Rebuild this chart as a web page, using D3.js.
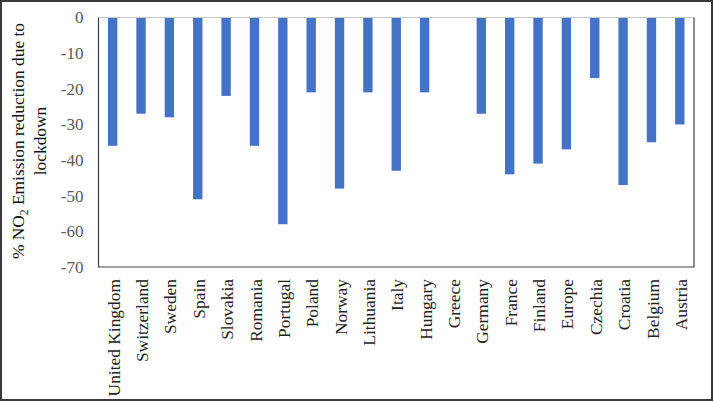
<!DOCTYPE html>
<html>
<head>
<meta charset="utf-8">
<script src="https://cdn.jsdelivr.net/npm/d3@7"></script>
<style>
  body { margin: 0; background: #fff; }
  svg text { font-family: "Liberation Serif", "Times New Roman", serif; }
</style>
</head>
<body>
<div id="chart"></div>
<script>
var countries = ["United Kingdom", "Switzerland", "Sweden", "Spain", "Slovakia", "Romania",
	"Portugal", "Poland", "Norway", "Lithuania", "Italy", "Hungary", "Greece", "Germany",
	"France", "Finland", "Europe", "Czechia", "Croatia", "Belgium", "Austria"];
var reduction = [-36, -27, -28, -51, -22, -36, -58, -21, -48, -21, -43, -21, 0, -27,
	-44, -41, -37, -17, -47, -35, -30];
var yTicks = [0, -10, -20, -30, -40, -50, -60, -70];

var width = 714;
var height = 402;
var margin = {top: 17.5, left: 98.5};
var plotRight = 694;
var plotBottom = 267;

var svg = d3.select("#chart").append("svg")
	.attr("width", width)
	.attr("height", height);

// outer frame
svg.append("rect")
	.attr("x", 1)
	.attr("y", 1)
	.attr("width", width - 3)
	.attr("height", height - 3)
	.attr("fill", "none")
	.attr("stroke", "#3a3a3a")
	.attr("stroke-width", 2);

var x = d3.scaleBand()
	.domain(countries)
	.range([margin.left, plotRight])
	.paddingInner(0.67)
	.paddingOuter(0.335);

var y = d3.scaleLinear()
	.domain([-70, 0])
	.range([plotBottom, margin.top]);

// bars
svg.selectAll("rect.bar")
	.data(countries)
	.enter().append("rect")
	.attr("class", "bar")
	.attr("x", function(d) { return x(d); })
	.attr("y", y(0))
	.attr("width", x.bandwidth())
	.attr("height", function(d, i) { return y(reduction[i]) - y(0); })
	.attr("fill", "#4472C4");

// zero line (top)
svg.append("line")
	.attr("x1", margin.left)
	.attr("x2", plotRight)
	.attr("y1", y(0))
	.attr("y2", y(0))
	.attr("stroke", "#c8c8c8")
	.attr("stroke-width", 1);

// plot border left, bottom, right
svg.append("path")
	.attr("d", "M" + margin.left + "," + y(0) + "V" + plotBottom + "H" + plotRight + "V" + y(0))
	.attr("fill", "none")
	.attr("stroke", "#404040")
	.attr("stroke-width", 1.2);

// y axis labels (plain hyphen, like the original)
var yAxis = d3.axisLeft(y)
	.tickValues(yTicks)
	.tickFormat(function(d) { return String(d); })
	.tickSize(0)
	.tickPadding(15);

var yg = svg.append("g")
	.attr("transform", "translate(" + margin.left + ",0)")
	.call(yAxis);
yg.select(".domain").remove();
yg.selectAll("text")
	.style("font-family", "'Liberation Serif', 'Times New Roman', serif")
	.style("font-size", "17px")
	.style("fill", "#595959");

// category labels
svg.selectAll("text.cat")
	.data(countries)
	.enter().append("text")
	.attr("class", "cat")
	.text(function(d) { return d; })
	.attr("transform", function(d) {
		return "translate(" + (x(d) + x.bandwidth() / 2 + 1) + "," + 279 + ") rotate(-90)";
	})
	.attr("dy", "0.35em")
	.style("text-anchor", "end")
	.style("font-size", "17.4px")
	.style("fill", "#222");

// y title
var title = svg.append("text")
	.attr("transform", "translate(24," + 141 + ") rotate(-90)")
	.style("text-anchor", "middle")
	.style("font-size", "17.4px")
	.style("fill", "#111");
var l1 = title.append("tspan").attr("x", 0).attr("y", 0);
l1.append("tspan").text("% NO");
l1.append("tspan").text("2").attr("dy", "4").style("font-size", "11.5px");
l1.append("tspan").text(" Emission reduction due to").attr("dy", "-4");
title.append("tspan").attr("x", 0).attr("y", 22).text("lockdown");
</script>
</body>
</html>
